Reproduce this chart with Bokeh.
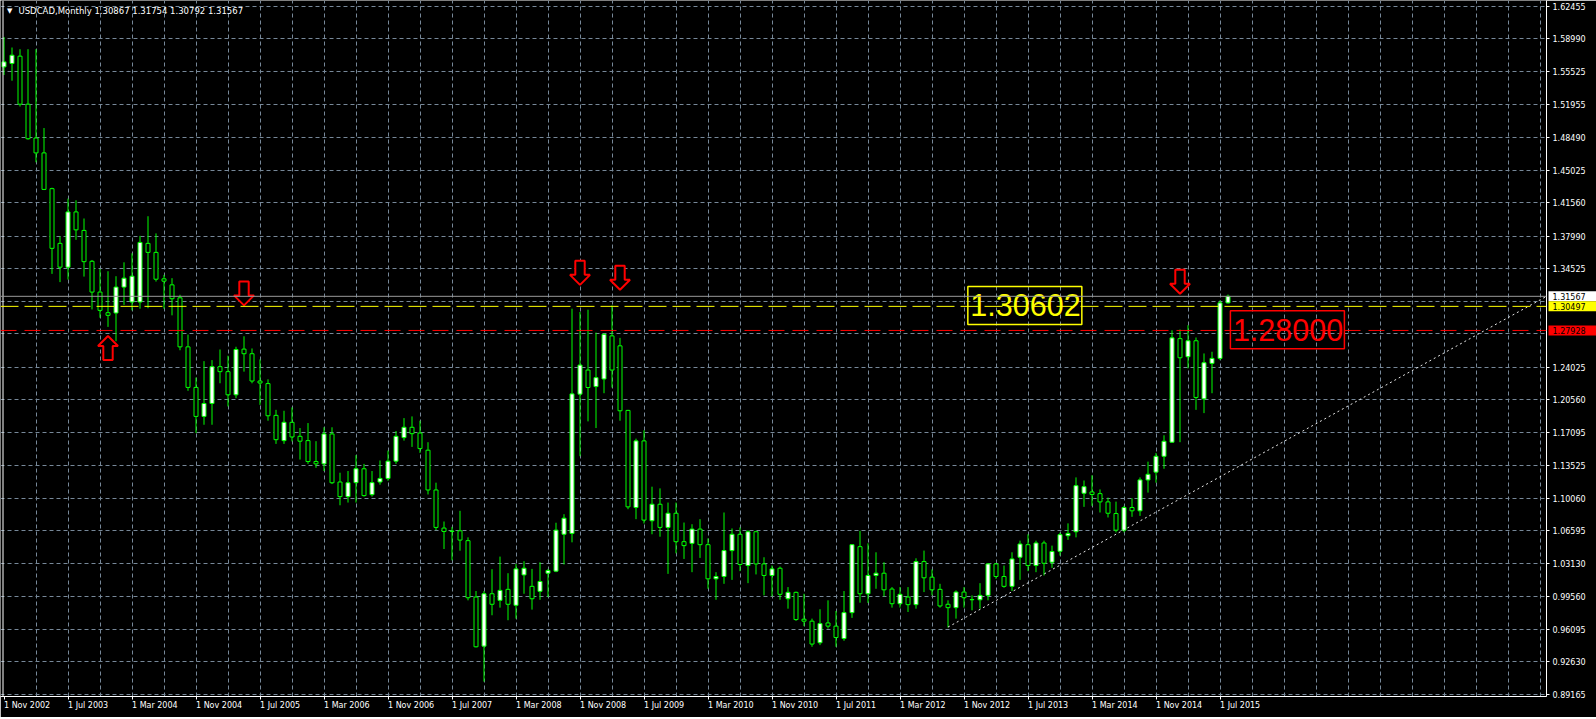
from bokeh.plotting import figure
from bokeh.layouts import row
from bokeh.models import Range1d, FixedTicker, Span, Label, ColumnDataSource
from bokeh.embed import file_html
from bokeh.resources import INLINE
from bokeh.core.properties import value

# ---------------- data (USDCAD monthly, Nov 2002 .. Aug 2015) ----------------
opens = [1.5602, 1.5638, 1.5716, 1.5204, 1.4844, 1.4685, 1.4304, 1.3721, 1.3467, 1.4056,
         1.3859, 1.3530, 1.3202, 1.2982, 1.2979, 1.3255, 1.3096, 1.3096, 1.3721, 1.3625,
         1.3343, 1.3279, 1.3141, 1.2618, 1.2186, 1.1877, 1.2015, 1.2407, 1.2354, 1.2107,
         1.2594, 1.2545, 1.2254, 1.2227, 1.1888, 1.1619, 1.1814, 1.1665, 1.1619, 1.1396,
         1.1371, 1.1690, 1.1178, 1.1022, 1.1171, 1.1319, 1.1043, 1.1178, 1.1216, 1.1400,
         1.1651, 1.1761, 1.1700, 1.1517, 1.1093, 1.0687, 1.0651, 1.0658, 1.0553, 0.9952,
         0.9429, 0.9987, 0.9917, 1.0034, 0.9864, 1.0188, 1.0066, 1.0013, 1.0206, 1.0228,
         1.0621, 1.0630, 1.2114, 1.2371, 1.2195, 1.2276, 1.2735, 1.2629, 1.1941, 1.0906,
         1.1616, 1.0765, 1.0941, 1.0694, 1.0845, 1.0542, 1.0524, 1.0676, 1.0510, 1.0146,
         1.0171, 1.0447, 1.0621, 1.0288, 1.0648, 1.0305, 1.0182, 1.0259, 0.9934, 1.0002,
         0.9716, 0.9695, 0.9465, 0.9676, 0.9642, 0.9510, 0.9786, 1.0489, 0.9987, 1.0182,
         1.0206, 1.0037, 0.9881, 0.9952, 0.9871, 1.0330, 1.0164, 1.0034, 0.9875, 0.9839,
         1.0005, 0.9923, 0.9923, 0.9970, 1.0305, 1.0171, 1.0066, 1.0376, 1.0510, 1.0288,
         1.0528, 1.0323, 1.0440, 1.0606, 1.0648, 1.1058, 1.1072, 1.1054, 1.0966, 1.0842,
         1.0665, 1.0906, 1.0871, 1.1200, 1.1283, 1.1452, 1.1602, 1.2706, 1.2513, 1.2683,
         1.2064, 1.2442, 1.2495, 1.30867]
highs = [1.5920, 1.5808, 1.5790, 1.5790, 1.5790, 1.4950, 1.4314, 1.3795, 1.4198, 1.4180,
         1.3986, 1.3544, 1.3448, 1.3424, 1.3371, 1.3519, 1.3615, 1.3801, 1.4010, 1.3827,
         1.3385, 1.3350, 1.3173, 1.2749, 1.2291, 1.2466, 1.2477, 1.2590, 1.2524, 1.2619,
         1.2731, 1.2601, 1.2484, 1.2272, 1.1947, 1.1937, 1.1973, 1.1753, 1.1806, 1.1613,
         1.1761, 1.1761, 1.1277, 1.1295, 1.1464, 1.1371, 1.1295, 1.1407, 1.1513, 1.1721,
         1.1859, 1.1877, 1.1831, 1.1602, 1.1171, 1.0757, 1.0700, 1.0871, 1.0588, 1.0016,
         1.0016, 1.0249, 1.0383, 1.0206, 1.0305, 1.0334, 1.0252, 1.0323, 1.0252, 1.0744,
         1.0835, 1.3025, 1.2990, 1.3014, 1.2770, 1.2759, 1.3060, 1.2714, 1.1947, 1.1640,
         1.1729, 1.1128, 1.1110, 1.0959, 1.0959, 1.0746, 1.0728, 1.0782, 1.0577, 1.0217,
         1.0853, 1.0683, 1.0694, 1.0665, 1.0658, 1.0376, 1.0288, 1.0277, 1.0058, 1.0010,
         0.9987, 0.9722, 0.9822, 0.9917, 0.9804, 1.0016, 1.0515, 1.0658, 1.0524, 1.0429,
         1.0323, 1.0058, 1.0058, 1.0058, 1.0365, 1.0447, 1.0246, 1.0093, 0.9917, 1.0023,
         1.0058, 0.9970, 1.0100, 1.0312, 1.0315, 1.0288, 1.0429, 1.0553, 1.0621, 1.0553,
         1.0553, 1.0500, 1.0639, 1.0737, 1.1227, 1.1194, 1.1249, 1.1099, 1.1012, 1.0969,
         1.0924, 1.1005, 1.1227, 1.1395, 1.1488, 1.1676, 1.2795, 1.2803, 1.2849, 1.2718,
         1.2548, 1.2566, 1.3113, 1.31754]
lows = [1.5515, 1.5454, 1.5179, 1.4826, 1.4585, 1.4289, 1.3396, 1.3308, 1.3335, 1.3759,
        1.3367, 1.3017, 1.2929, 1.2831, 1.2678, 1.3065, 1.3007, 1.3025, 1.3030, 1.3314,
        1.3025, 1.2954, 1.2582, 1.2150, 1.1700, 1.1788, 1.1788, 1.2230, 1.1983, 1.2071,
        1.2354, 1.2230, 1.2000, 1.1831, 1.1584, 1.1584, 1.1610, 1.1417, 1.1371, 1.1329,
        1.1295, 1.1156, 1.0930, 1.0959, 1.0959, 1.1022, 1.1022, 1.1149, 1.1191, 1.1371,
        1.1619, 1.1552, 1.1488, 1.1045, 1.0665, 1.0464, 1.0343, 1.0446, 0.9917, 0.9415,
        0.9051, 0.9758, 0.9839, 0.9705, 0.9722, 0.9987, 0.9818, 0.9923, 0.9952, 1.0217,
        1.0299, 1.0535, 1.1453, 1.1824, 1.1753, 1.2124, 1.2185, 1.1831, 1.0888, 1.0782,
        1.0736, 1.0621, 1.0595, 1.0199, 1.0418, 1.0358, 1.0217, 1.0369, 1.0040, 0.9923,
        1.0093, 1.0135, 1.0228, 1.0100, 1.0193, 0.9970, 0.9959, 0.9923, 0.9828, 0.9698,
        0.9642, 0.9422, 0.9440, 0.9616, 0.9422, 0.9486, 0.9730, 0.9892, 0.9889, 1.0040,
        0.9959, 0.9839, 0.9839, 0.9793, 0.9828, 1.0005, 0.9970, 0.9839, 0.9627, 0.9722,
        0.9839, 0.9811, 0.9828, 0.9917, 1.0146, 1.0051, 1.0016, 1.0135, 1.0228, 1.0217,
        1.0182, 1.0263, 1.0394, 1.0561, 1.0588, 1.0913, 1.0924, 1.0853, 1.0800, 1.0641,
        1.0641, 1.0807, 1.0817, 1.1065, 1.1171, 1.1319, 1.1596, 1.1602, 1.2389, 1.1947,
        1.1912, 1.2124, 1.2477, 1.30792]
closes = [1.5655, 1.5726, 1.5204, 1.4836, 1.4685, 1.4296, 1.3668, 1.3467, 1.4056, 1.3865,
          1.3526, 1.3202, 1.3007, 1.2954, 1.3255, 1.3350, 1.3371, 1.3731, 1.3625, 1.3339,
          1.3318, 1.3131, 1.2618, 1.2186, 1.1877, 1.2015, 1.2407, 1.2354, 1.2107, 1.2590,
          1.2545, 1.2254, 1.2233, 1.1884, 1.1629, 1.1814, 1.1658, 1.1613, 1.1396, 1.1371,
          1.1690, 1.1170, 1.1022, 1.1170, 1.1319, 1.1033, 1.1171, 1.1216, 1.1400, 1.1665,
          1.1761, 1.1693, 1.1534, 1.1093, 1.0694, 1.0651, 1.0655, 1.0559, 0.9945, 0.9422,
          0.9987, 0.9875, 1.0023, 0.9875, 1.0252, 1.0259, 0.9934, 1.0118, 1.0235, 1.0665,
          1.0792, 1.2117, 1.2424, 1.2185, 1.2290, 1.2752, 1.2371, 1.1937, 1.0913, 1.1616,
          1.0772, 1.0941, 1.0694, 1.0845, 1.0542, 1.0500, 1.0676, 1.0510, 1.0146, 1.0171,
          1.0447, 1.0621, 1.0299, 1.0648, 1.0305, 1.0182, 1.0252, 0.9981, 1.0002, 0.9712,
          0.9695, 0.9451, 0.9669, 0.9642, 0.9521, 0.9786, 1.0510, 0.9987, 1.0182, 1.0206,
          1.0029, 0.9881, 0.9981, 0.9871, 1.0330, 1.0157, 1.0029, 0.9857, 0.9839, 1.0005,
          0.9945, 0.9926, 0.9970, 1.0305, 1.0171, 1.0066, 1.0358, 1.0517, 1.0288, 1.0528,
          1.0312, 1.0437, 1.0617, 1.0630, 1.1139, 1.1128, 1.1045, 1.0966, 1.0845, 1.0665,
          1.0906, 1.0871, 1.1200, 1.1260, 1.1452, 1.1612, 1.2714, 1.2502, 1.2683, 1.2079,
          1.2449, 1.2495, 1.3087, 1.31567]

date_tick_bars = [0, 8, 16, 24, 32, 40, 48, 56, 64, 72, 80, 88, 96, 104, 112, 120, 128, 136, 144, 152]
date_tick_labels = ["1 Nov 2002", "1 Jul 2003", "1 Mar 2004", "1 Nov 2004", "1 Jul 2005",
                    "1 Mar 2006", "1 Nov 2006", "1 Jul 2007", "1 Mar 2008", "1 Nov 2008",
                    "1 Jul 2009", "1 Mar 2010", "1 Nov 2010", "1 Jul 2011", "1 Mar 2012",
                    "1 Nov 2012", "1 Jul 2013", "1 Mar 2014", "1 Nov 2014", "1 Jul 2015"]

# price grid levels; the labels of 1.31060 and 1.27595 are hidden by the price tags
grid_prices = [1.62455, 1.58990, 1.55525, 1.51955, 1.48490, 1.45025, 1.41560, 1.37990,
               1.34525, 1.31060, 1.27595, 1.24025, 1.20560, 1.17095, 1.13525, 1.10060,
               1.06595, 1.03130, 0.99560, 0.96095, 0.92630, 0.89165]
price_ticks = [1.62455, 1.58990, 1.55525, 1.51955, 1.48490, 1.45025, 1.41560, 1.37990,
               1.34525, 1.24025, 1.20560, 1.17095, 1.13525, 1.10060,
               1.06595, 1.03130, 0.99560, 0.96095, 0.92630, 0.89165]
price_tick_labels = ["1.62455", "1.58990", "1.55525", "1.51955", "1.48490", "1.45025",
                     "1.41560", "1.37990", "1.34525", "1.24025", "1.20560",
                     "1.17095", "1.13525", "1.10060", "1.06595", "1.03130", "0.99560",
                     "0.96095", "0.92630", "0.89165"]

title_text = "USDCAD,Monthly  1.30867 1.31754 1.30792 1.31567"
bid_price = 1.31567
yellow_level = 1.30497
red_level = 1.27928
tag_prices = [bid_price, yellow_level, red_level]
tag_texts = ["1.31567", "1.30497", "1.27928"]
tag_fills = ["#ffffff", "#ffff00", "#ff0000"]
note_texts = ["1.30602", "1.28000"]
note_bars = [120.48, 153.3]          # left edge of each note box
note_prices = [1.30602, 1.28000]
note_colors = ["#ffff00", "#ff0000"]
arrow_bars = [13, 30, 72, 77, 147]
arrow_tips = [1.2733, 1.3060, 1.3279, 1.3226, 1.3184]
arrow_dirs = ["up", "down", "down", "down", "down"]
trend_bars = [118, 200]
trend_prices = [0.9632, 1.3495]

# ---------------- layout ----------------
W = 1596
AXIS_R = 50
FRAME_H = 696
frame_w = W - AXIS_R
PX_PER_BAR = 8
x_start = -3.5 / PX_PER_BAR
x_end = x_start + frame_w / PX_PER_BAR
y_lo, y_hi = 0.88922, 1.63091
ppy = (y_hi - y_lo) / FRAME_H

GREEN = "#00ff00"
GRID = "#778899"
FONT = "DejaVu Sans"

p = figure(width=W, frame_height=FRAME_H, x_range=Range1d(x_start, x_end),
           y_range=Range1d(y_lo, y_hi),
           output_backend="svg", toolbar_location=None, y_axis_location="right",
           min_border_left=0, min_border_top=0, min_border_right=AXIS_R, min_border_bottom=0,
           background_fill_color="black", border_fill_color="black", outline_line_color=None)

# grid
p.xgrid.ticker = FixedTicker(ticks=list(range(4, 196, 4)))
p.ygrid.ticker = FixedTicker(ticks=grid_prices)
for g in (p.xgrid[0], p.ygrid[0]):
    g.grid_line_color = GRID
    g.grid_line_dash = "4 3"
    g.grid_line_width = 1

# price axis (right)
ya = p.yaxis[0]
ya.ticker = FixedTicker(ticks=price_ticks)
ya.major_label_overrides = {t: s for t, s in zip(price_ticks, price_tick_labels)}
ya.major_label_standoff = 3

# time axis; a tiny negative orientation makes the labels start at their tick
xa = p.xaxis[0]
xa.ticker = FixedTicker(ticks=date_tick_bars)
xa.major_label_overrides = {t: s for t, s in zip(date_tick_bars, date_tick_labels)}
xa.major_label_orientation = -0.0001
xa.major_label_standoff = 6

for ax in (xa, ya):
    ax.axis_line_color = "white"
    ax.axis_line_width = 1
    ax.major_tick_line_color = "white"
    ax.major_tick_out = 3
    ax.major_tick_in = 0
    ax.minor_tick_line_color = None
    ax.major_label_text_color = "white"
    ax.major_label_text_font = FONT
    ax.major_label_text_font_size = "8px"

# left border
p.add_layout(Span(location=x_start + 2.5 / PX_PER_BAR, dimension="height",
                  line_color="white", line_width=1))

# candles
idx = list(range(len(opens)))
src = ColumnDataSource(dict(
    x=idx, o=opens, h=highs, l=lows, c=closes,
    top=[max(a, b) for a, b in zip(opens, closes)],
    bot=[min(a, b) for a, b in zip(opens, closes)],
    fill=["white" if c >= o else "black" for o, c in zip(opens, closes)],
))
p.segment(x0="x", y0="l", x1="x", y1="h", source=src, line_color=GREEN, line_width=1)
p.vbar(x="x", width=0.5, top="top", bottom="bot", source=src,
       fill_color="fill", line_color=GREEN, line_width=1)

# trend line
p.line(trend_bars, trend_prices, line_color="#e8e8e8", line_width=1, line_dash="2 3")

# horizontal levels
p.add_layout(Span(location=bid_price, dimension="width", line_color="#9a9a9a", line_width=1))
p.add_layout(Span(location=yellow_level, dimension="width", line_color="#ffff00",
                  line_width=1, line_dash="18 6"))
p.add_layout(Span(location=red_level, dimension="width", line_color="#ff0000",
                  line_width=1, line_dash="16 8"))

# arrows (hollow, red)
shape = [(0, 0), (-10, 10), (-4.7, 10), (-4.7, 24), (4.7, 24), (4.7, 10), (10, 10)]
axs, ays = [], []
for b, tip, d in zip(arrow_bars, arrow_tips, arrow_dirs):
    sgn = 1 if d == "down" else -1
    axs.append([b + dx / PX_PER_BAR for dx, dy in shape])
    ays.append([tip + sgn * dy * ppy for dx, dy in shape])
p.patches(axs, ays, fill_color="black", line_color="#ff0000", line_width=2)

# text notes with frames
BOX_W, BOX_H = 114, 38
p.rect(x=[b + BOX_W / 2 / PX_PER_BAR for b in note_bars], y=note_prices,
       width=BOX_W, height=BOX_H, width_units="screen", height_units="screen",
       fill_alpha=0, line_color=note_colors, line_width=1.5)
p.text(x=[b + 2.5 / PX_PER_BAR for b in note_bars], y=note_prices, text=note_texts,
       text_color=note_colors, text_font=value("Liberation Sans"), text_font_size="30.5px",
       text_align="left", text_baseline="middle")

# title
p.add_layout(Label(x=6.5, y=FRAME_H - 10.5, x_units="screen", y_units="screen", text="\u25bc",
                   text_color="white", text_font=FONT, text_font_size="7px",
                   text_baseline="middle"))
p.add_layout(Label(x=18, y=FRAME_H - 10.5, x_units="screen", y_units="screen", text=title_text,
                   text_color="white", text_font=FONT, text_font_size="8.5px",
                   text_baseline="middle"))

# ---------------- price tags laid over the price axis ----------------
TW = AXIS_R
t = figure(width=TW, frame_height=FRAME_H, x_range=Range1d(0, TW), y_range=p.y_range,
           output_backend="svg", toolbar_location=None, x_axis_type=None, y_axis_type=None,
           min_border_left=0, min_border_top=0, min_border_right=0, min_border_bottom=0,
           background_fill_alpha=0, border_fill_alpha=0, outline_line_color=None,
           margin=(0, 0, 0, -TW))
t.rect(x=[(2 + TW) / 2] * 3, y=tag_prices, width=TW - 2, height=10,
       width_units="screen", height_units="screen", fill_color=tag_fills, line_color=None)
t.text(x=[6] * 3, y=tag_prices, text=tag_texts, text_color="black",
       text_font=value(FONT), text_font_size="8px", text_align="left", text_baseline="middle")

layout = row(p, t)
open("out.html", "w").write(file_html(layout, INLINE))
